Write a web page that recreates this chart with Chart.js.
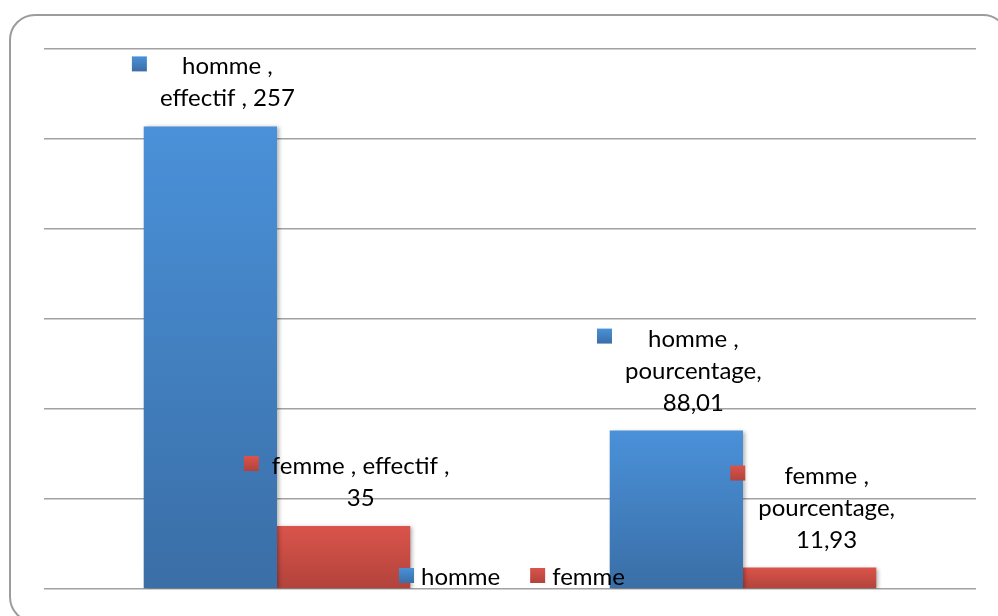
<!DOCTYPE html>
<html>
<head>
<meta charset="utf-8">
<script src="https://cdn.jsdelivr.net/npm/chart.js@4.4.1/dist/chart.umd.min.js"></script>
<style>
  html, body { margin: 0; padding: 0; background: #ffffff; }
  #wrap { width: 998px; height: 616px; position: relative; }
  canvas { display: block; }
</style>
</head>
<body>
<div id="wrap"><canvas id="c" width="998" height="616"></canvas></div>
<script>
// ---- data ----
const categories = ['effectif ', 'pourcentage'];
const seriesNames = ['homme ', 'femme '];
const hommeValues = [257, 88.01];
const femmeValues = [35, 11.93];
const yMin = 0;
const yMax = 300;
const yStep = 50;
// how each data label wraps: groups of parts [series, category, value] per line
const labelWrap = [
  [ [[0], [1, 2]], [[0], [1], [2]] ],      // homme: effectif, pourcentage
  [ [[0, 1], [2]], [[0], [1], [2]] ]       // femme: effectif, pourcentage
];

const FONT = '24px Lato, "Open Sans", sans-serif';
const TEXT_COLOR = '#000000';
const gradStops = [
  ['#4a91d9', '#3a6ea6'],
  ['#da544b', '#b1433b']
];

function fmt(v) { return String(v).replace('.', ','); }

function barGradient(dsIndex) {
  return function (ctx) {
    const chart = ctx.chart;
    const ys = chart.scales && chart.scales.y;
    if (!chart.chartArea || !ys || ctx.raw === undefined) return gradStops[dsIndex][0];
    const top = ys.getPixelForValue(ctx.raw);
    const bottom = ys.getPixelForValue(0);
    const g = chart.ctx.createLinearGradient(0, top, 0, bottom);
    g.addColorStop(0, gradStops[dsIndex][0]);
    g.addColorStop(1, gradStops[dsIndex][1]);
    return g;
  };
}

const framePlugin = {
  id: 'frame',
  beforeDraw(chart) {
    const c = chart.ctx;
    c.save();
    c.strokeStyle = '#9c9c9c';
    c.lineWidth = 2;
    c.beginPath();
    c.roundRect(10, 15, 998, 607, 25);
    c.stroke();
    c.restore();
  }
};

const shadowPlugin = {
  id: 'barShadow',
  beforeDatasetsDraw(chart) {
    const c = chart.ctx;
    c.save();
    c.shadowColor = 'rgba(0,0,0,0.30)';
    c.shadowBlur = 4;
    c.shadowOffsetX = 2;
    c.shadowOffsetY = 1;
  },
  afterDatasetsDraw(chart) {
    chart.ctx.restore();
  }
};

const labelPlugin = {
  id: 'excelLabels',
  afterDatasetsDraw(chart) {
    const c = chart.ctx;
    c.save();
    c.font = FONT;
    c.fillStyle = TEXT_COLOR;
    c.textBaseline = 'alphabetic';
    const lineH = 32;
    chart.data.datasets.forEach((ds, di) => {
      const meta = chart.getDatasetMeta(di);
      meta.data.forEach((bar, i) => {
        const parts = [seriesNames[di] + ',', categories[i] + ',', fmt(ds.data[i])];
        const lines = labelWrap[di][i].map(g => g.map(k => parts[k]).join(' '));
        const widths = lines.map(l => c.measureText(l).width);
        const maxW = Math.max(...widths);
        const blockLeft = bar.x + 3 - (28 + maxW) / 2;
        const textCx = blockLeft + 28 + maxW / 2;
        const lastBase = bar.y - 20;
        const firstBase = lastBase - lineH * (lines.length - 1);
        // legend key square
        const g = c.createLinearGradient(0, firstBase - 18, 0, firstBase - 3);
        g.addColorStop(0, gradStops[di][0]);
        g.addColorStop(1, gradStops[di][1]);
        c.fillStyle = g;
        c.fillRect(blockLeft, firstBase - 18, 15, 15);
        c.fillStyle = TEXT_COLOR;
        c.textAlign = 'center';
        lines.forEach((l, k) => c.fillText(l, textCx, firstBase + k * lineH));
      });
    });
    c.restore();
  }
};

const legendPlugin = {
  id: 'bottomLegend',
  afterDraw(chart) {
    const c = chart.ctx;
    const area = chart.chartArea;
    c.save();
    c.font = FONT;
    c.textBaseline = 'alphabetic';
    c.textAlign = 'left';
    const items = seriesNames.map((n, i) => ({ text: n.trim(), i, w: c.measureText(n.trim()).width }));
    const box = 15, gap = 7, itemGap = 30;
    let total = items.reduce((s, it) => s + box + gap + it.w, 0) + itemGap * (items.length - 1);
    let x = (area.left + area.right) / 2 + 2 - total / 2;
    const base = area.bottom - 4;
    items.forEach(it => {
      const g = c.createLinearGradient(0, base - 17, 0, base - 2);
      g.addColorStop(0, gradStops[it.i][0]);
      g.addColorStop(1, gradStops[it.i][1]);
      c.fillStyle = g;
      c.fillRect(x, base - 17, box, box);
      c.fillStyle = TEXT_COLOR;
      c.fillText(it.text, x + box + gap, base);
      x += box + gap + it.w + itemGap;
    });
    c.restore();
  }
};

function build() {
  new Chart(document.getElementById('c'), {
    type: 'bar',
    data: {
      labels: categories,
      datasets: [
        { label: seriesNames[0], data: hommeValues, backgroundColor: barGradient(0), borderWidth: 0 },
        { label: seriesNames[1], data: femmeValues, backgroundColor: barGradient(1), borderWidth: 0 }
      ]
    },
    options: {
      responsive: false,
      animation: false,
      devicePixelRatio: 1,
      layout: { padding: { left: 44, right: 22, top: 49, bottom: 27 } },
      datasets: { bar: { barPercentage: 1, categoryPercentage: 0.572 } },
      plugins: { legend: { display: false }, tooltip: { enabled: false } },
      scales: {
        x: {
          grid: { display: false, drawTicks: false },
          border: { display: false },
          ticks: { display: false },
          afterFit(s) { s.height = 0; }
        },
        y: {
          min: yMin, max: yMax,
          ticks: { display: false, stepSize: yStep },
          grid: { color: '#a2a2a2', lineWidth: 1.6, drawTicks: false },
          border: { display: false },
          afterFit(s) { s.width = 0; }
        }
      }
    },
    plugins: [framePlugin, shadowPlugin, labelPlugin, legendPlugin]
  });
}

if (document.fonts && document.fonts.load) {
  document.fonts.load(FONT).then(build, build);
} else {
  build();
}
</script>
</body>
</html>
